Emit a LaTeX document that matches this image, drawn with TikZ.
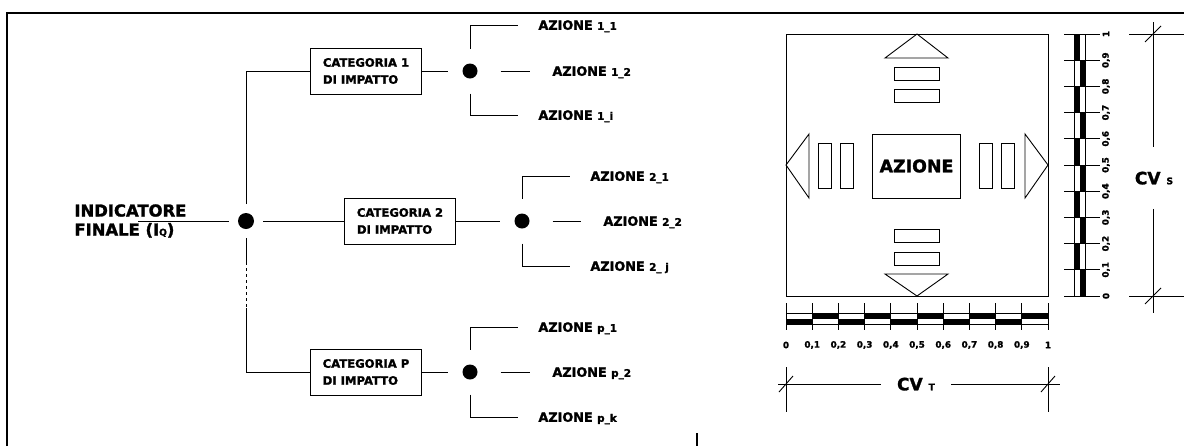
\documentclass[tikz,border=0pt]{standalone}
\usepackage{fontspec}
\setmainfont[BoldFeatures={FakeBold=1.6}]{DejaVu Sans}
\usetikzlibrary{positioning}

\newcommand{\pedice}[1]{{\fontsize{5.2}{6}\selectfont #1}}
\newcommand{\piccolo}[1]{{\fontsize{4.6}{5}\selectfont #1}}

\begin{document}
\begin{tikzpicture}[
  x=0.5pt, y=-0.5pt,
  line width=0.45pt,
  cornice/.style={line width=1.1pt},
  cat/.style={draw, minimum width=55.5pt, minimum height=23pt, align=left,
              inner sep=1pt, font=\fontsize{5.8}{8.5}\selectfont\bfseries},
  dot/.style={circle, fill, inner sep=0pt, minimum size=8pt, outer sep=4.5pt},
  sdot/.style={dot, minimum size=7.5pt, outer sep=7.5pt},
  act/.style={anchor=west, inner sep=0pt, text depth=0pt,
              font=\fontsize{6.4}{7.5}\selectfont\bfseries},
  titolo/.style={anchor=west, align=left, inner sep=0pt,
                 font=\fontsize{8.2}{9.5}\selectfont\bfseries},
  scl/.style={inner sep=0pt, font=\fontsize{4.4}{5}\selectfont\bfseries},
  dim/.style={inner sep=0pt, text depth=0pt, font=\fontsize{8.5}{9}\selectfont\bfseries}
]
\useasboundingbox (0,0) rectangle (1184,446);

% cornice
\draw[cornice] (7,446) -- (7,13) -- (1184,13);
\draw[cornice] (697,433) -- (697,446);

% albero degli indicatori
\node[titolo] (ind) at (74,221) {INDICATORE\\FINALE (I\piccolo{Q})};
\coordinate (indl) at (138,221);
\node[dot] (d0) at (246,221) {};
\node[cat] (cat1) at (366,71)  {CATEGORIA 1\\DI IMPATTO};
\node[cat] (cat2) at (400,221) {CATEGORIA 2\\DI IMPATTO};
\node[cat] (catp) at (366,372) {CATEGORIA P\\DI IMPATTO};

\draw (indl) -- (d0.west);
\draw (d0.north) |- (cat1.west);
\draw (d0.east) -- (cat2.west);
\draw (d0.south) -- ++(0,24) coordinate (p1);
\draw[dash pattern=on 1.5pt off 1.5pt] (p1) -- ++(0,46) coordinate (p2);
\draw (p2) |- (catp.west);

% azioni categoria 1
\node[sdot] (d1) at (470,71) {};
\node[act] (a11) at (538,25)  {AZIONE \pedice{1\_1}};
\node[act] (a12) at (552,71)  {AZIONE \pedice{1\_2}};
\node[act] (a1i) at (538,115) {AZIONE \pedice{1\_i}};
\draw (cat1.east) -- (d1.west);
\draw (d1.north) |- ([xshift=-10pt]a11.west);
\draw ([xshift=4pt]d1.east) -- ([xshift=-11pt]a12.west);
\draw (d1.south) |- ([xshift=-10pt]a1i.west);

% azioni categoria 2
\node[sdot] (d2) at (522,221) {};
\node[act] (a21) at (590,176) {AZIONE \pedice{2\_1}};
\node[act] (a22) at (603,221) {AZIONE \pedice{2\_2}};
\node[act] (a2j) at (590,266) {AZIONE \pedice{2\_ j}};
\draw (cat2.east) -- (d2.west);
\draw (d2.north) |- ([xshift=-10pt]a21.west);
\draw ([xshift=4pt]d2.east) -- ([xshift=-11pt]a22.west);
\draw (d2.south) |- ([xshift=-10pt]a2j.west);

% azioni categoria P
\node[sdot] (d3) at (470,372) {};
\node[act] (ap1) at (538,327) {AZIONE \pedice{p\_1}};
\node[act] (ap2) at (552,372) {AZIONE \pedice{p\_2}};
\node[act] (apk) at (538,417) {AZIONE \pedice{p\_k}};
\draw (catp.east) -- (d3.west);
\draw (d3.north) |- ([xshift=-10pt]ap1.west);
\draw ([xshift=4pt]d3.east) -- ([xshift=-11pt]ap2.west);
\draw (d3.south) |- ([xshift=-10pt]apk.west);

% scheda azione
\draw (786,34) rectangle (1048,296);
\node[draw, minimum width=43.5pt, minimum height=32pt,
      font=\fontsize{8.7}{10}\selectfont\bfseries] (az) at (916.5,166) {AZIONE};
\draw (917,34) -- (948,58) -- (885,58) -- cycle;
\draw (917,296) -- (948,274) -- (885,274) -- cycle;
\draw (786,165) -- (809,134) -- (809,198) -- cycle;
\draw (1048,165) -- (1025,134) -- (1025,198) -- cycle;
\draw (894,67) rectangle (939,80) (894,89) rectangle (939,102);
\draw (894,229) rectangle (939,242) (894,252) rectangle (939,265);
\draw (818,143) rectangle (831,188) (840,143) rectangle (853,188);
\draw (979,143) rectangle (992,188) (1001,143) rectangle (1014,188);

% scale 0-1
\foreach \k in {0,...,9} {
  \pgfmathsetmacro\ya{296-26.2*\k}
  \pgfmathsetmacro\yb{296-26.2*(\k+1)}
  \pgfmathsetmacro\xa{786+26.2*\k}
  \pgfmathsetmacro\xb{786+26.2*(\k+1)}
  \ifodd\k\relax
    \fill (1074,\ya) rectangle (1079.5,\yb);
    \fill (\xa,313) rectangle (\xb,318.5);
  \else
    \fill (1079.5,\ya) rectangle (1085,\yb);
    \fill (\xa,318.5) rectangle (\xb,324);
  \fi
}
\draw (1074,34) -- (1074,296) (1085,34) -- (1085,296);
\draw (786,313) -- (1048,313) (786,324) -- (1048,324);
\foreach \k in {0,...,10} {
  \pgfmathsetmacro\yt{296-26.2*\k}
  \pgfmathsetmacro\xt{786+26.2*\k}
  \draw (1064,\yt) -- (1100,\yt);
  \draw (\xt,303) -- (\xt,330);
  \ifnum\k=0 \def\lab{0}\else\ifnum\k=10 \def\lab{1}\else\def\lab{0,\k}\fi\fi
  \node[scl, rotate=90] (v\k) at (1106,\yt) {\lab};
  \node[scl] (h\k) at (\xt,345) {\lab};
}

% quota CV T
\draw (786,367) -- (786,412) (1048,367) -- (1048,412);
\node[dim, inner xsep=8pt] (cvt) at (916,384) {CV \piccolo{T}};
\coordinate (tl) at (778,384);
\coordinate (tr) at (1060,384);
\draw (tl) -- (cvt.west) (cvt.east) -- (tr);
\draw (779,392) -- (793,376) (1041,392) -- (1055,376);

% quota CV S
\draw (1129,34) -- (1184,34) (1129,296) -- (1184,296);
\node[dim, inner ysep=12pt] (cvs) at (1154,178) {CV \piccolo{S}};
\coordinate (st) at (1153,22);
\coordinate (sb) at (1153,313);
\draw (st) -- (st |- cvs.north) (st |- cvs.south) -- (sb);
\draw (1145,42) -- (1161,26) (1145,304) -- (1161,288);
\end{tikzpicture}
\end{document}
